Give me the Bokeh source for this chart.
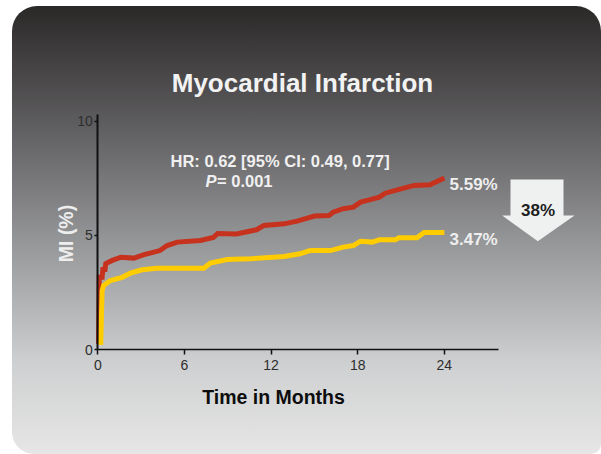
from bokeh.plotting import figure
from bokeh.models import Range1d, FixedTicker, Label, PolyAnnotation
from bokeh.embed import file_html
from bokeh.resources import INLINE
import math

# ---------------- data ----------------
title_text = "Myocardial Infarction"
x_title = "Time in Months"
y_title = "MI (%)"
hr_text = "HR: 0.62 [95% CI: 0.49, 0.77]"
p_letter = "P"
p_value = "= 0.001"
month_ticks = [0, 6, 12, 18, 24]
mi_ticks = [0, 5, 10]

# red curve (comparator)
red_months = [0.05, 0.1, 0.3, 0.35, 0.5, 0.55, 1.0, 1.6, 2.5, 3.2, 4.3, 4.8, 5.5, 7.1,
              8.0, 8.3, 9.6, 11.0, 11.5, 12.9, 13.8, 15.0, 16.0, 16.3, 17.0, 17.7,
              18.2, 18.8, 19.5, 19.9, 21.0, 21.9, 23.0, 24.0]
red_mi = [0.25, 3.16, 3.16, 3.5, 3.5, 3.76, 3.9, 4.04, 4.0, 4.15, 4.33, 4.55, 4.70, 4.77,
          4.9, 5.08, 5.06, 5.24, 5.43, 5.5, 5.62, 5.84, 5.86, 6.01, 6.16, 6.23,
          6.45, 6.55, 6.67, 6.84, 7.03, 7.18, 7.21, 7.51]
red_label = "5.59%"

# yellow curve (treatment)
yel_months = [0.2, 0.3, 0.4, 0.88, 1.69, 2.26, 3.07, 4.1, 7.34, 7.8, 8.96, 10.6, 12.9,
              14.0, 14.7, 16.1, 17.0, 17.7, 18.2, 19.0, 19.5, 20.6, 20.85, 22.1, 22.6, 24.0]
yel_mi = [0.2, 2.58, 2.8, 3.02, 3.16, 3.34, 3.49, 3.56, 3.56, 3.78, 3.94, 3.97, 4.07,
          4.19, 4.33, 4.33, 4.48, 4.55, 4.74, 4.70, 4.8, 4.8, 4.89, 4.89, 5.12, 5.12]
yel_label = "3.47%"

reduction_text = "38%"

# ---------------- layout / styling ----------------
RED = "#c6321e"
YELLOW = "#ffcc00"
FONT = "Liberation Sans"

# page-pixel calibration of the data axes
X0, XS = 97.3, 14.44     # page x of month 0, px per month
Y0, YS = 349.0, 22.85    # page y of 0 %, px per percent
def dx(px):
    return (px - X0) / XS
def dy(py):
    return (Y0 - py) / YS

CARD_L, CARD_T, CARD_W, CARD_H = 12, 6, 589, 448

p = figure(width=CARD_W, height=CARD_H,
           x_range=Range1d(dx(CARD_L), dx(CARD_L + CARD_W)),
           y_range=Range1d(dy(CARD_T + CARD_H), dy(CARD_T)),
           output_backend="svg", toolbar_location=None,
           min_border_left=0, min_border_right=0,
           min_border_top=0, min_border_bottom=0)

p.styles = {
    "margin-left": f"{CARD_L}px",
    "margin-top": f"{CARD_T}px",
    "background": "linear-gradient(180deg, #2b2828 0%, #5f5e60 27%, #9a9b9d 55%, #cfd0d1 80%, #e6e6e6 100%)",
    "border-radius": "25px 25px 10px 22px",
}
p.background_fill_alpha = 0
p.border_fill_alpha = 0
p.outline_line_color = None
p.xgrid.visible = False
p.ygrid.visible = False

# axes (placed inside the frame at 0, limited by bounds)
p.xaxis.ticker = FixedTicker(ticks=month_ticks)
p.yaxis.ticker = FixedTicker(ticks=mi_ticks)
p.xaxis.fixed_location = 0
p.yaxis.fixed_location = 0
p.xaxis.bounds = (0, dx(498.3))
p.yaxis.bounds = (0, dy(114))
for ax in (p.xaxis, p.yaxis):
    ax.minor_tick_line_color = None
    ax.major_tick_in = 0
    ax.major_label_text_font = FONT
    ax.major_label_text_font_size = "14px"
    ax.major_label_text_color = "#2e2e2e"
    ax.axis_line_color = "#111111"
    ax.major_tick_line_color = "#111111"
p.xaxis.axis_line_width = 1.5
p.xaxis.major_tick_line_width = 1.5
p.xaxis.major_tick_out = 5
p.xaxis.major_label_standoff = 5
p.yaxis.axis_line_width = 2
p.yaxis.major_tick_line_width = 1.5
p.yaxis.major_tick_out = 3
p.yaxis.major_label_standoff = 2

# curves
p.line(red_months, red_mi, line_color=RED, line_width=5, line_join="miter")
p.line(yel_months, yel_mi, line_color=YELLOW, line_width=5, line_join="miter")

def add_label(text, px, py, size, color, style="bold", align="left", baseline="alphabetic", angle=0):
    p.add_layout(Label(x=dx(px), y=dy(py), text=text, text_font=FONT,
                       text_font_size=size, text_font_style=style, text_color=color,
                       text_align=align, text_baseline=baseline, angle=angle))

add_label(title_text, 302, 82.5, "26px", "#f2f2f2", align="center")
add_label(hr_text, 170, 160, "16.5px", "#f0f0f0")
add_label(p_letter, 205, 180.7, "16.5px", "#f0f0f0", style="bold italic")
add_label(p_value, 216.5, 180.7, "16.5px", "#f0f0f0")
add_label(red_label, 449, 184, "17px", "#eeeeee")
add_label(yel_label, 449, 238.7, "17px", "#eeeeee")
add_label(x_title, 273, 396.7, "19.5px", "#0d0d0d", align="center")
add_label(y_title, 65, 233, "19.5px", "#eeeeee", align="center", baseline="middle", angle=math.pi / 2)

# reduction arrow
arrow_px = [510, 563, 563, 574, 537.3, 501.7, 510]
arrow_py = [179, 179, 215, 215, 240.7, 215, 215]
p.add_layout(PolyAnnotation(xs=[dx(v) for v in arrow_px], ys=[dy(v) for v in arrow_py],
                            fill_color="#eff0f0", fill_alpha=1, line_color=None))
add_label(reduction_text, 537.5, 210, "17px", "#1e1e1e", align="center")

open("out.html", "w").write(file_html(p, INLINE))
